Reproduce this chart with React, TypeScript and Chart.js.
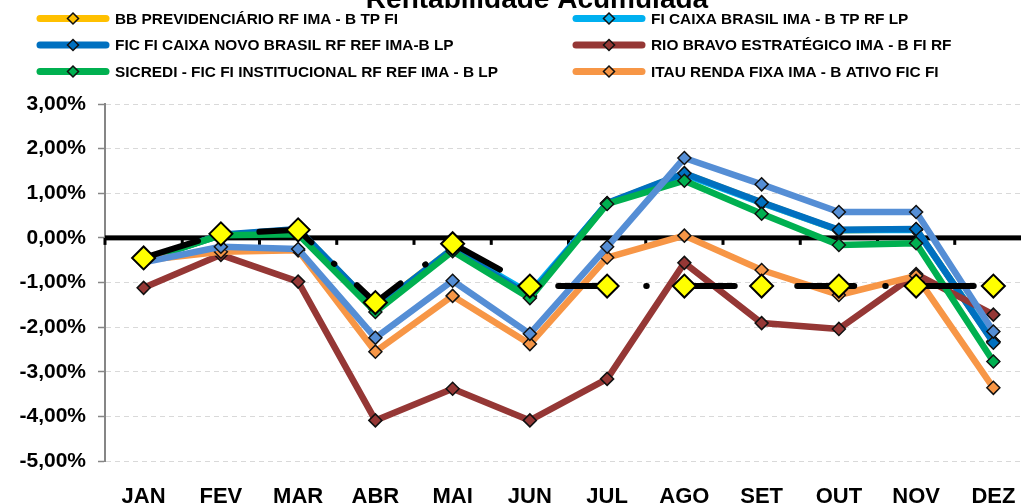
import React, { useEffect, useRef } from "react";
import { Chart, registerables } from "chart.js";

Chart.register(...registerables);

// ---------- data ----------
const MONTHS = ["JAN", "FEV", "MAR", "ABR", "MAI", "JUN", "JUL", "AGO", "SET", "OUT", "NOV", "DEZ"];

const SERIES_NAMES = [
  "BB PREVIDENCIÁRIO RF IMA - B TP FI",
  "FI CAIXA BRASIL IMA - B TP RF LP",
  "FIC FI CAIXA NOVO BRASIL RF REF IMA-B LP",
  "RIO BRAVO ESTRATÉGICO IMA - B FI RF",
  "SICREDI - FIC FI INSTITUCIONAL RF REF IMA - B LP",
  "ITAU RENDA FIXA IMA - B ATIVO FIC FI",
];
const TITLE = "Rentabilidade Acumulada";

// values in %
const BB_PREV = [-0.5, 0.06, 0.18, -1.58, -0.24, -1.3, 0.77, 1.44, 0.79, 0.17, 0.19, -2.33];
const FI_CAIXA = [-0.5, 0.06, 0.16, -1.6, -0.24, -1.24, 0.77, 1.42, 0.78, 0.17, 0.18, -2.32];
const FIC_CAIXA = [-0.5, 0.07, 0.2, -1.58, -0.25, -1.3, 0.78, 1.45, 0.8, 0.18, 0.2, -2.35];
const RIO_BRAVO = [-1.12, -0.38, -0.98, -4.09, -3.38, -4.09, -3.16, -0.56, -1.91, -2.04, -0.81, -1.72];
const SICREDI = [-0.5, 0.06, 0.08, -1.66, -0.3, -1.35, 0.76, 1.28, 0.54, -0.16, -0.12, -2.77];
const ITAU = [-0.5, -0.31, -0.28, -2.55, -1.3, -2.38, -0.44, 0.05, -0.72, -1.28, -0.85, -3.36];
const IMA_B = [-0.55, -0.2, -0.25, -2.24, -0.96, -2.15, -0.2, 1.79, 1.2, 0.58, 0.58, -2.1];
const META = [-0.45, 0.09, 0.18, -1.45, -0.13, -1.08, -1.08, -1.08, -1.08, -1.08, -1.08, -1.08];

const Y_MIN = -5;
const Y_MAX = 3;
const Y_STEP = 1;

const LINE_COLORS = ["#FFC000", "#00B0F0", "#0070C0", "#953735", "#00B050", "#F79646"];
const IMA_B_COLOR = "#558ED5";

const FONT = "'Liberation Sans', Arial, sans-serif";

const fmtPct = (v: number) => v.toFixed(2).replace(".", ",") + "%";

export default function App() {
  const ref = useRef<HTMLCanvasElement>(null);

  useEffect(() => {
    const canvas = ref.current!;
    const mk = (label: string, data: number[], color: string) => ({
      label,
      data,
      borderColor: color,
      backgroundColor: color,
      borderWidth: 6.5,
      borderJoinStyle: "round",
      borderCapStyle: "round",
      tension: 0,
      fill: false,
      pointStyle: "rectRot",
      pointRadius: 6.5,
      pointBackgroundColor: color,
      pointBorderColor: "#111111",
      pointBorderWidth: 1.5,
    });

    const seq: any[] = [
      mk(SERIES_NAMES[0], BB_PREV, LINE_COLORS[0]),
      mk(SERIES_NAMES[1], FI_CAIXA, LINE_COLORS[1]),
      mk(SERIES_NAMES[2], FIC_CAIXA, LINE_COLORS[2]),
      mk(SERIES_NAMES[3], RIO_BRAVO, LINE_COLORS[3]),
      mk(SERIES_NAMES[4], SICREDI, LINE_COLORS[4]),
      mk(SERIES_NAMES[5], ITAU, LINE_COLORS[5]),
      mk("IMA-B", IMA_B, IMA_B_COLOR),
      {
        label: "META",
        data: META,
        borderColor: "#000000",
        backgroundColor: "#FFFF00",
        borderWidth: 6,
        borderDash: [57, 31, 0.5, 31],
        borderCapStyle: "round",
        borderJoinStyle: "round",
        tension: 0,
        fill: false,
        pointStyle: "rectRot",
        pointRadius: 11.5,
        pointBackgroundColor: "#FFFF00",
        pointBorderColor: "#000000",
        pointBorderWidth: 2,
      },
    ];
    seq.forEach((d, i) => (d.order = seq.length - i));

    const decor = {
      id: "decor",
      beforeDatasetsDraw(chart: any) {
        const { ctx, chartArea } = chart;
        const y0 = chart.scales.y.getPixelForValue(0);
        ctx.save();
        ctx.fillStyle = "#000000";
        ctx.fillRect(chartArea.left, y0 - 2.5, chartArea.right - chartArea.left, 5);
        const n = MONTHS.length;
        const step = (chartArea.right - chartArea.left) / n;
        for (let i = 0; i <= n; i++) {
          const x = chartArea.left + i * step;
          ctx.fillRect(x - 1.5, y0, 3, 7);
        }
        ctx.restore();
      },
      afterDraw(chart: any) {
        const { ctx } = chart;
        ctx.save();
        // title
        ctx.fillStyle = "#000000";
        ctx.font = `bold 28px ${FONT}`;
        ctx.textAlign = "center";
        ctx.textBaseline = "alphabetic";
        ctx.fillText(TITLE, 537, 28);
        // legend
        const cols = [37, 573];
        const rows = [38.5, 65, 91.5];
        ctx.font = `bold 15.4px ${FONT}`;
        ctx.textAlign = "left";
        ctx.textBaseline = "middle";
        SERIES_NAMES.forEach((name, i) => {
          const cx = cols[i % 2];
          const cy = rows[Math.floor(i / 2)];
          const color = LINE_COLORS[i];
          ctx.strokeStyle = color;
          ctx.lineWidth = 7;
          ctx.lineCap = "round";
          ctx.beginPath();
          ctx.moveTo(cx + 3, cy);
          ctx.lineTo(cx + 69, cy);
          ctx.stroke();
          const mx = cx + 36;
          const r = 5.5;
          ctx.beginPath();
          ctx.moveTo(mx, cy - r);
          ctx.lineTo(mx + r, cy);
          ctx.lineTo(mx, cy + r);
          ctx.lineTo(mx - r, cy);
          ctx.closePath();
          ctx.fillStyle = color;
          ctx.fill();
          ctx.lineWidth = 1.5;
          ctx.strokeStyle = "#111111";
          ctx.stroke();
          ctx.fillStyle = "#000000";
          ctx.fillText(name, cx + 78, cy + 1);
        });
        ctx.restore();
      },
    };

    const chart = new Chart(canvas, {
      type: "line",
      data: { labels: MONTHS, datasets: seq },
      options: {
        responsive: false,
        maintainAspectRatio: false,
        animation: false,
        devicePixelRatio: 1,
        layout: { padding: { top: 124, left: 0, right: 18, bottom: 0 } },
        plugins: {
          legend: { display: false },
          title: { display: false },
          tooltip: { enabled: false },
        },
        scales: {
          x: {
            type: "category",
            offset: true,
            grid: { display: false },
            border: { display: false },
            ticks: {
              color: "#000000",
              font: { family: FONT, weight: "bold", size: 22 },
              padding: 15,
              maxRotation: 0,
              autoSkip: false,
            },
            afterFit: (s: any) => {
              s.height = 59;
            },
          },
          y: {
            min: Y_MIN,
            max: Y_MAX,
            ticks: {
              stepSize: Y_STEP,
              color: "#000000",
              font: { family: FONT, weight: "bold", size: 21 },
              padding: 12,
              callback: (v: any) => fmtPct(Number(v)),
            },
            grid: {
              color: (c: any) => (c.tick && c.tick.value === 0 ? "rgba(0,0,0,0)" : "#D9D9D9"),
              tickColor: "#868686",
              tickLength: 7,
              lineWidth: 1,
              tickWidth: 1.5,
            },
            border: { display: true, color: "#868686", width: 2, dash: [5, 4] },
            afterFit: (s: any) => {
              s.width = 105;
            },
          },
        },
      } as any,
      plugins: [decor],
    });
    return () => chart.destroy();
  }, []);

  return (
    <div
      style={{
        position: "fixed",
        left: 0,
        top: 0,
        width: 1021,
        height: 504,
        overflow: "hidden",
        background: "#ffffff",
      }}
    >
      <canvas
        ref={ref}
        width={1050}
        height={540}
        style={{ position: "absolute", left: 0, top: -20, width: 1050, height: 540 }}
      />
    </div>
  );
}
